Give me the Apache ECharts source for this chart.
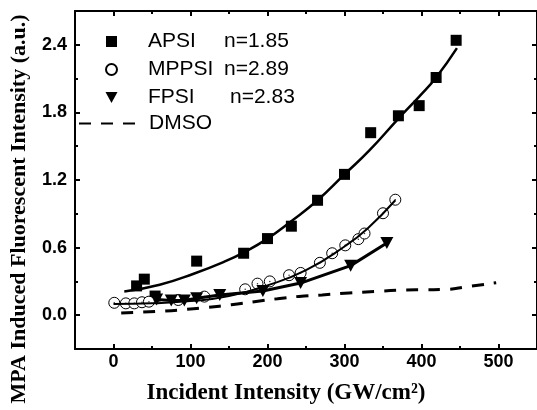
<!DOCTYPE html>
<html>
<head>
<meta charset="utf-8">
<script src="https://cdn.jsdelivr.net/npm/echarts@6/dist/echarts.min.js"></script>
<style>html,body{margin:0;padding:0;background:#fff;}#c{width:537px;height:410px;}</style>
</head>
<body>
<div id="c"></div>
<script>
// ---- data ----
const xTickValues = [0, 100, 200, 300, 400, 500];
const xMinorTickValues = [50, 150, 250, 350, 450];
const yTickValues = [0, 0.6, 1.2, 1.8, 2.4];
const yMinorTickValues = [0.3, 0.9, 1.5, 2.1];

const seriesNames = ['APSI', 'MPPSI', 'FPSI', 'DMSO'];
const nLabels = ['n=1.85', 'n=2.89', 'n=2.83'];

const apsiX = [30, 40, 54, 108, 169, 200, 231, 265, 300, 334, 370, 397, 419, 445];
const apsiY = [0.26, 0.32, 0.17, 0.48, 0.55, 0.68, 0.79, 1.02, 1.25, 1.62, 1.77, 1.86, 2.11, 2.44];
const apsiFitX = [14, 60, 105, 144, 170, 200, 230, 265, 300, 332, 370, 397, 419, 446];
const apsiFitY = [0.21, 0.27, 0.37, 0.475, 0.56, 0.68, 0.83, 1.02, 1.25, 1.46, 1.745, 1.94, 2.11, 2.37];

const mppsiX = [1, 16, 27, 37, 46, 84, 118, 171, 187, 203, 228, 243, 268, 284, 301, 318, 326, 350, 366];
const mppsiY = [0.11, 0.105, 0.105, 0.115, 0.12, 0.135, 0.165, 0.23, 0.28, 0.30, 0.355, 0.375, 0.465, 0.55, 0.62, 0.675, 0.725, 0.905, 1.025];
const mppsiFitX = [0, 50, 100, 150, 200, 250, 300, 330, 366];
const mppsiFitY = [0.10, 0.105, 0.125, 0.17, 0.265, 0.40, 0.61, 0.77, 1.02];

const fpsiX = [56, 75, 92, 108, 138, 194, 243, 308, 355];
const fpsiY = [0.14, 0.13, 0.13, 0.15, 0.18, 0.215, 0.285, 0.44, 0.64];

const dmsoX = [10, 30, 60, 90, 122, 153, 183, 213, 241, 271, 306, 340, 373, 405, 429, 461, 497];
const dmsoY = [0.02, 0.025, 0.035, 0.049, 0.069, 0.093, 0.12, 0.146, 0.167, 0.18, 0.197, 0.211, 0.222, 0.226, 0.228, 0.255, 0.288];

const xTitle = 'Incident Intensity (GW/cm\u00B2)';
const yTitle = 'MPA Induced Fluorescent Intensity (a.u.)';

// ---- helpers ----
const zip = (xs, ys) => xs.map((x, i) => [x, ys[i]]);
const SANS = 'Liberation Sans, Arial, sans-serif';
const SERIF = 'Liberation Serif, Times New Roman, serif';
const triPath = 'path://M0,0L12,0L6,11Z';
const sqPath = 'path://M0,0L10,0L10,10L0,10Z';

const gridBox = { left: 75, top: 11, width: 462, height: 338 };
const XMIN = -50, XMAX = 550, YMIN = -0.3, YMAX = 2.7;

function xAxisDef(grid, pos, ticks, len, frame, labels) {
  return {
    gridIndex: grid, type: 'value', min: XMIN, max: XMAX, position: pos,
    axisLine: { show: frame, onZero: false, lineStyle: { color: '#000', width: 2 } },
    axisTick: { show: true, inside: true, length: len, customValues: ticks, lineStyle: { color: '#000', width: 2 } },
    axisLabel: labels ? { show: true, customValues: ticks, margin: 4, color: '#000', fontFamily: SANS, fontWeight: 'bold', fontSize: 18, formatter: v => String(v) } : { show: false },
    splitLine: { show: false }
  };
}
function yAxisDef(grid, pos, ticks, len, frame, labels) {
  return {
    gridIndex: grid, type: 'value', min: YMIN, max: YMAX, position: pos,
    axisLine: { show: frame, onZero: false, lineStyle: { color: '#000', width: 2 } },
    axisTick: { show: true, inside: true, length: len, customValues: ticks, lineStyle: { color: '#000', width: 2 } },
    axisLabel: labels ? { show: true, customValues: ticks, margin: 8, color: '#000', fontFamily: SANS, fontWeight: 'bold', fontSize: 18, formatter: v => Number(v).toFixed(1) } : { show: false },
    splitLine: { show: false }
  };
}

const legendFont = { fontFamily: SANS, fontSize: 21, color: '#000', lineHeight: 20 };

const chart = echarts.init(document.getElementById('c'), null, { renderer: 'canvas' });
const option = {
  animation: false,
  backgroundColor: '#ffffff',
  grid: [Object.assign({}, gridBox), Object.assign({}, gridBox)],
  xAxis: [
    xAxisDef(0, 'bottom', xTickValues, 5, true, true),
    xAxisDef(0, 'top', xTickValues, 5, true, false),
    xAxisDef(1, 'bottom', xMinorTickValues, 3, false, false),
    xAxisDef(1, 'top', xMinorTickValues, 3, false, false)
  ],
  yAxis: [
    yAxisDef(0, 'left', yTickValues, 5, true, true),
    yAxisDef(0, 'right', yTickValues, 5, true, false),
    yAxisDef(1, 'left', yMinorTickValues, 3, false, false),
    yAxisDef(1, 'right', yMinorTickValues, 3, false, false)
  ],
  legend: [
    {
      data: [
        { name: seriesNames[0], icon: sqPath },
        { name: seriesNames[1], icon: 'circle' },
        { name: seriesNames[2], icon: triPath }
      ],
      orient: 'vertical', left: 105, top: 31, padding: 0,
      itemWidth: 13, itemHeight: 11, itemGap: 7,
      selectedMode: false,
      formatter: function (name) {
        const i = seriesNames.indexOf(name);
        const key = name === 'FPSI' ? 'f' : 'a';
        return '{' + key + '|' + name + '}{n|' + nLabels[i] + '}';
      },
      textStyle: Object.assign({}, legendFont, {
        rich: {
          a: Object.assign({ width: 76, padding: [0, 0, 0, 25] }, legendFont),
          f: Object.assign({ width: 82, padding: [0, 0, 0, 25] }, legendFont),
          n: Object.assign({}, legendFont)
        }
      })
    },
    {
      data: [{ name: seriesNames[3] }],
      orient: 'vertical', left: 78, top: 113, padding: 0,
      itemWidth: 57, itemHeight: 11,
      selectedMode: false,
      itemStyle: { opacity: 0 },
      formatter: function (name) { return '{d|' + name + '}'; },
      textStyle: Object.assign({}, legendFont, {
        rich: { d: Object.assign({ padding: [0, 0, 0, 8] }, legendFont) }
      })
    }
  ],
  graphic: [
    {
      type: 'text', x: 286, y: 393,
      style: { text: xTitle, font: 'bold 23px ' + SERIF, fill: '#000', textAlign: 'center', textVerticalAlign: 'middle' }
    },
    {
      type: 'text', x: 19, y: 209, rotation: Math.PI / 2,
      style: { text: yTitle, font: 'bold 22px ' + SERIF, fill: '#000', textAlign: 'center', textVerticalAlign: 'middle' }
    }
  ],
  series: [
    {
      name: 'DMSO', type: 'line', xAxisIndex: 0, yAxisIndex: 0,
      data: zip(dmsoX, dmsoY), smooth: true, symbol: 'none',
      lineStyle: { color: '#000', width: 3, type: [12, 10] }, itemStyle: { color: '#000' }
    },
    {
      name: 'APSI fit', type: 'line', xAxisIndex: 0, yAxisIndex: 0,
      data: zip(apsiFitX, apsiFitY), smooth: true, symbol: 'none',
      lineStyle: { color: '#000', width: 2.5 }, silent: true
    },
    {
      name: 'MPPSI fit', type: 'line', xAxisIndex: 0, yAxisIndex: 0,
      data: zip(mppsiFitX, mppsiFitY), smooth: true, symbol: 'none',
      lineStyle: { color: '#000', width: 2 }, silent: true
    },
    {
      name: 'FPSI', type: 'line', xAxisIndex: 0, yAxisIndex: 0,
      data: zip(fpsiX, fpsiY), smooth: false, symbol: triPath, symbolSize: [13, 12],
      showAllSymbol: true,
      lineStyle: { color: '#000', width: 3 }, itemStyle: { color: '#000' }
    },
    {
      name: 'APSI', type: 'scatter', xAxisIndex: 0, yAxisIndex: 0,
      data: zip(apsiX, apsiY), symbol: 'rect', symbolSize: 11,
      itemStyle: { color: '#000', opacity: 1 }
    },
    {
      name: 'MPPSI', type: 'scatter', xAxisIndex: 0, yAxisIndex: 0,
      data: zip(mppsiX, mppsiY), symbol: 'circle', symbolSize: 11,
      itemStyle: { color: '#fff', borderColor: '#000', borderWidth: 1, opacity: 1 }
    },
    {
      name: 'MPPSI dot', type: 'scatter', xAxisIndex: 0, yAxisIndex: 0,
      data: zip(mppsiX, mppsiY), symbol: 'circle', symbolSize: 1.5, silent: true,
      itemStyle: { color: '#000' }
    }
  ]
};
chart.setOption(option);
</script>
</body>
</html>
